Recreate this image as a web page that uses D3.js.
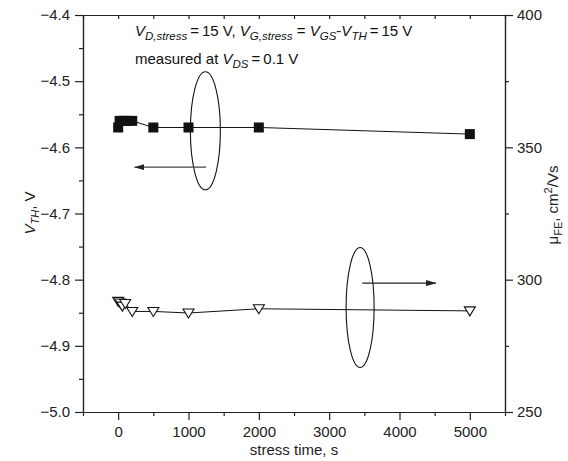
<!DOCTYPE html>
<html>
<head>
<meta charset="utf-8">
<script src="https://cdn.jsdelivr.net/npm/d3@7"></script>
<style>
  body { margin: 0; background: #fff; }
  svg { font-family: "Liberation Sans", Arial, sans-serif; }
  .tick text { font-size: 15px; fill: #222; }
  .domain, .tick line { stroke: #222; }
</style>
</head>
<body>
<div id="chart"></div>
<script>
// stress time (s) and threshold voltage (V), filled squares, left axis
var vthTime = [0, 20, 70, 130, 200, 500, 1000, 2000, 5000];
var vthVal = [-4.57, -4.56, -4.56, -4.56, -4.56, -4.57, -4.57, -4.57, -4.58];

// stress time (s) and field-effect mobility (cm2/Vs), open triangles, right axis
var muTime = [0, 30, 60, 100, 200, 500, 1000, 2000, 5000];
var muVal = [291.8, 291.2, 290.0, 291.0, 288.0, 288.0, 287.4, 289.0, 288.2];

// ticks
var xTicks = [0, 1000, 2000, 3000, 4000, 5000];
var xMinor = [-500, 500, 1500, 2500, 3500, 4500, 5500];
var yLeftTicks = [-4.4, -4.5, -4.6, -4.7, -4.8, -4.9, -5.0];
var yLeftMinor = [-4.45, -4.55, -4.65, -4.75, -4.85, -4.95];
var yRightTicks = [250, 300, 350, 400];
var yRightMinor = [275, 325, 375];

// annotation ellipses [time, value] and arrows [t0, t1, value]
var leftEllipse = [1240, -4.575];
var rightEllipse = [3440, 289.5];
var leftArrow = [1250, 230, -4.63];
var rightArrow = [3470, 4520, 298.7];

var W = 568, H = 461;
var margin = {top: 15, right: 63, bottom: 49, left: 83};
var width = W - margin.left - margin.right,
    height = H - margin.top - margin.bottom;

var svg = d3.select("#chart").append("svg")
  .attr("width", W).attr("height", H);

var g = svg.append("g")
  .attr("transform", `translate(${margin.left},${margin.top})`);

var x = d3.scaleLinear().domain([-500, 5500]).range([0, width]);
var yL = d3.scaleLinear().domain([-5.0, -4.4]).range([height, 0]);
var yR = d3.scaleLinear().domain([250, 400]).range([height, 0]);

var fmtL = d => d3.format(".1f")(d).replace("-", "\u2212");

// bottom axis
g.append("g").attr("transform", `translate(0,${height})`)
  .call(d3.axisBottom(x).tickValues(xTicks).tickSize(8).tickSizeOuter(0).tickPadding(5).tickFormat(d3.format("d")))
  .call(a => a.selectAll("text").attr("dy", "0.8em"));
g.append("g").attr("transform", `translate(0,${height})`)
  .call(d3.axisBottom(x).tickValues(xMinor).tickSize(4).tickSizeOuter(0).tickFormat(""));

// top axis (inward ticks)
g.append("g")
  .call(d3.axisBottom(x).tickValues(xTicks.concat(xMinor)).tickSize(4).tickSizeOuter(0).tickFormat(""));

// left axis
g.append("g")
  .call(d3.axisLeft(yL).tickValues(yLeftTicks).tickSize(8).tickSizeOuter(0).tickPadding(5).tickFormat(fmtL));
g.append("g")
  .call(d3.axisLeft(yL).tickValues(yLeftMinor).tickSize(4).tickSizeOuter(0).tickFormat(""));

// right axis
g.append("g").attr("transform", `translate(${width},0)`)
  .call(d3.axisRight(yR).tickValues(yRightTicks).tickSize(8).tickSizeOuter(0).tickPadding(4));
g.append("g").attr("transform", `translate(${width},0)`)
  .call(d3.axisRight(yR).tickValues(yRightMinor).tickSize(4).tickSizeOuter(0).tickFormat(""));

g.selectAll(".domain").attr("stroke-width", 1.2);
g.selectAll(".tick line").attr("stroke-width", 1.2);

// VTH series
var vthData = vthTime.map((t, i) => ({t: t, v: vthVal[i]}));
g.append("path").datum(vthData)
  .attr("fill", "none").attr("stroke", "#111").attr("stroke-width", 1)
  .attr("d", d3.line().x(d => x(d.t)).y(d => yL(d.v)));
g.selectAll(".sq").data(vthData).enter().append("rect")
  .attr("x", d => x(d.t) - 5).attr("y", d => yL(d.v) - 5)
  .attr("width", 10).attr("height", 10).attr("fill", "#111");

// mobility series
var muData = muTime.map((t, i) => ({t: t, v: muVal[i]}));
g.append("path").datum(muData)
  .attr("fill", "none").attr("stroke", "#111").attr("stroke-width", 1)
  .attr("d", d3.line().x(d => x(d.t)).y(d => yR(d.v)));
g.selectAll(".tri").data(muData).enter().append("path")
  .attr("transform", d => `translate(${x(d.t)},${yR(d.v)})`)
  .attr("d", "M-5.5,-4 L5.5,-4 L0,5 Z")
  .attr("fill", "#fff").attr("stroke", "#111").attr("stroke-width", 1.1);

// ellipses
g.append("ellipse")
  .attr("cx", x(leftEllipse[0])).attr("cy", yL(leftEllipse[1]))
  .attr("rx", 15).attr("ry", 59)
  .attr("fill", "none").attr("stroke", "#111").attr("stroke-width", 1.1);
g.append("ellipse")
  .attr("cx", x(rightEllipse[0])).attr("cy", yR(rightEllipse[1]))
  .attr("rx", 14).attr("ry", 60)
  .attr("fill", "none").attr("stroke", "#111").attr("stroke-width", 1.1);

// arrows
svg.append("defs").append("marker")
  .attr("id", "ah").attr("viewBox", "0 0 10 6")
  .attr("refX", 10).attr("refY", 3)
  .attr("markerWidth", 10).attr("markerHeight", 6)
  .attr("markerUnits", "userSpaceOnUse").attr("orient", "auto")
  .append("path").attr("d", "M0,0 L10,3 L0,6 Z").attr("fill", "#222");

g.append("line")
  .attr("x1", x(leftArrow[0])).attr("x2", x(leftArrow[1]))
  .attr("y1", yL(leftArrow[2])).attr("y2", yL(leftArrow[2]))
  .attr("stroke", "#444").attr("stroke-width", 1.2).attr("marker-end", "url(#ah)");
g.append("line")
  .attr("x1", x(rightArrow[0])).attr("x2", x(rightArrow[1]))
  .attr("y1", yR(rightArrow[2])).attr("y2", yR(rightArrow[2]))
  .attr("stroke", "#222").attr("stroke-width", 1.2).attr("marker-end", "url(#ah)");

// annotation text
var t1 = svg.append("text").attr("x", 135).attr("y", 36)
  .attr("font-size", 15).attr("fill", "#111");
t1.append("tspan").attr("font-style", "italic").text("V");
t1.append("tspan").attr("font-style", "italic").attr("font-size", 11.5).attr("dy", 4).text("D,stress");
t1.append("tspan").attr("dy", -4).text("\u2009=\u200915 V, ");
t1.append("tspan").attr("font-style", "italic").text("V");
t1.append("tspan").attr("font-style", "italic").attr("font-size", 11.5).attr("dy", 4).text("G,stress");
t1.append("tspan").attr("dy", -4).text(" = ");
t1.append("tspan").attr("font-style", "italic").text("V");
t1.append("tspan").attr("font-style", "italic").attr("font-size", 11.5).attr("dy", 4).text("GS");
t1.append("tspan").attr("dy", -4).text("-");
t1.append("tspan").attr("font-style", "italic").text("V");
t1.append("tspan").attr("font-style", "italic").attr("font-size", 11.5).attr("dy", 4).text("TH");
t1.append("tspan").attr("dy", -4).text("\u2009=\u200915 V");

var t2 = svg.append("text").attr("x", 135).attr("y", 64)
  .attr("font-size", 15).attr("fill", "#111");
t2.append("tspan").text("measured at ");
t2.append("tspan").attr("font-style", "italic").text("V");
t2.append("tspan").attr("font-style", "italic").attr("font-size", 11.5).attr("dy", 4).text("DS");
t2.append("tspan").attr("dy", -4).text("\u2009=\u20090.1 V");

// axis titles
svg.append("text").attr("x", margin.left + width / 2).attr("y", 455)
  .attr("text-anchor", "middle").attr("font-size", 15).attr("fill", "#222")
  .text("stress time, s");

var ly = svg.append("text").attr("transform", "translate(35,213) rotate(-90)")
  .attr("text-anchor", "middle").attr("font-size", 15).attr("fill", "#222");
ly.append("tspan").attr("font-style", "italic").text("V");
ly.append("tspan").attr("font-style", "italic").attr("font-size", 11).attr("dy", 4).text("TH");
ly.append("tspan").attr("dy", -4).text(", V");

var ry = svg.append("text").attr("transform", "translate(558,205) rotate(-90)")
  .attr("text-anchor", "middle").attr("font-size", 15).attr("fill", "#222");
ry.append("tspan").text("\u03bc");
ry.append("tspan").attr("font-size", 11).attr("dy", 4).text("FE");
ry.append("tspan").attr("dy", -4).text(", cm");
ry.append("tspan").attr("font-size", 11).attr("dy", -6).text("2");
ry.append("tspan").attr("dy", 6).text("/Vs");
</script>
</body>
</html>
